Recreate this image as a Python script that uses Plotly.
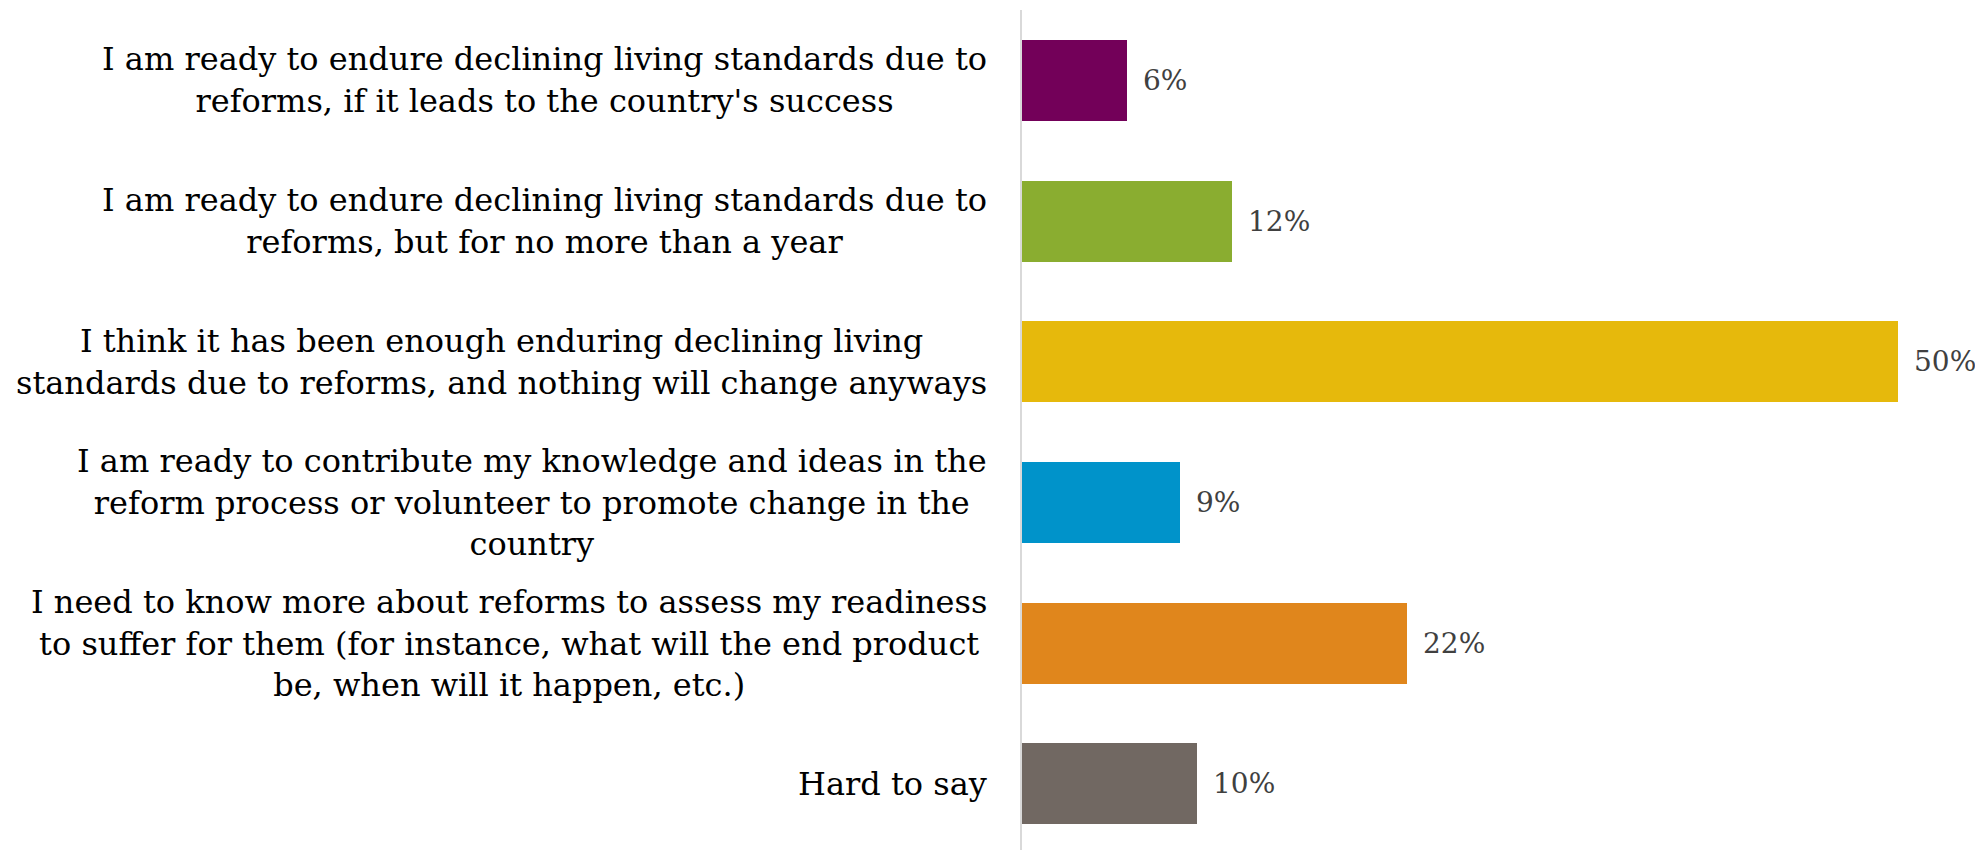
import plotly.graph_objects as go

# survey answers, top to bottom
categories = [
    "I am ready to endure declining living standards due to<br>reforms, if it leads to the country's success",
    "I am ready to endure declining living standards due to<br>reforms, but for no more than a year",
    "I think it has been enough enduring declining living<br>standards due to reforms, and nothing will change anyways",
    "I am ready to contribute my knowledge and ideas in the<br>reform process or volunteer to promote change in the<br>country",
    "I need to know more about reforms to assess my readiness<br>to suffer for them (for instance, what will the end product<br>be, when will it happen, etc.)",
    "Hard to say",
]
values = [6, 12, 50, 9, 22, 10]
bar_colors = ["#730059", "#8AAD30", "#E6B90C", "#0093CA", "#E0861C", "#716862"]

FONT = "DejaVu Serif"
LABEL_COLOR = "#000000"
VALUE_COLOR = "#404040"
AXIS_COLOR = "#D9D9D9"

fig = go.Figure()

fig.add_trace(
    go.Bar(
        x=values,
        y=categories,
        orientation="h",
        marker=dict(color=bar_colors, line=dict(width=0)),
        width=0.575,
        hoverinfo="skip",
    )
)

# category labels, centred lines, right edge just left of the axis
for cat in categories:
    fig.add_annotation(
        x=0, y=cat, xref="x", yref="y",
        text=cat,
        showarrow=False,
        xanchor="right", yanchor="middle",
        align="center",
        xshift=-33,
        font=dict(family=FONT, size=32, color=LABEL_COLOR),
    )

# value labels
for cat, v in zip(categories, values):
    fig.add_annotation(
        x=v, y=cat, xref="x", yref="y",
        text=f"{v}%",
        showarrow=False,
        xanchor="left", yanchor="middle",
        xshift=14,
        font=dict(family=FONT, size=28, color=VALUE_COLOR),
    )

# page body has an 8px margin, so the figure is trimmed by that much
fig.update_layout(
    width=1975,
    height=842,
    margin=dict(l=1014, r=0, t=2, b=0),
    plot_bgcolor="white",
    paper_bgcolor="white",
    showlegend=False,
    bargap=0,
)

fig.update_xaxes(
    range=[0, 54.85],
    showgrid=False, zeroline=False, showticklabels=False, showline=False,
)
fig.update_yaxes(
    type="category",
    range=[5.47, -0.5],
    showgrid=False, zeroline=False, showticklabels=False,
    showline=True, linecolor=AXIS_COLOR, linewidth=2,
    ticks="",
)

fig.write_html("out.html")
